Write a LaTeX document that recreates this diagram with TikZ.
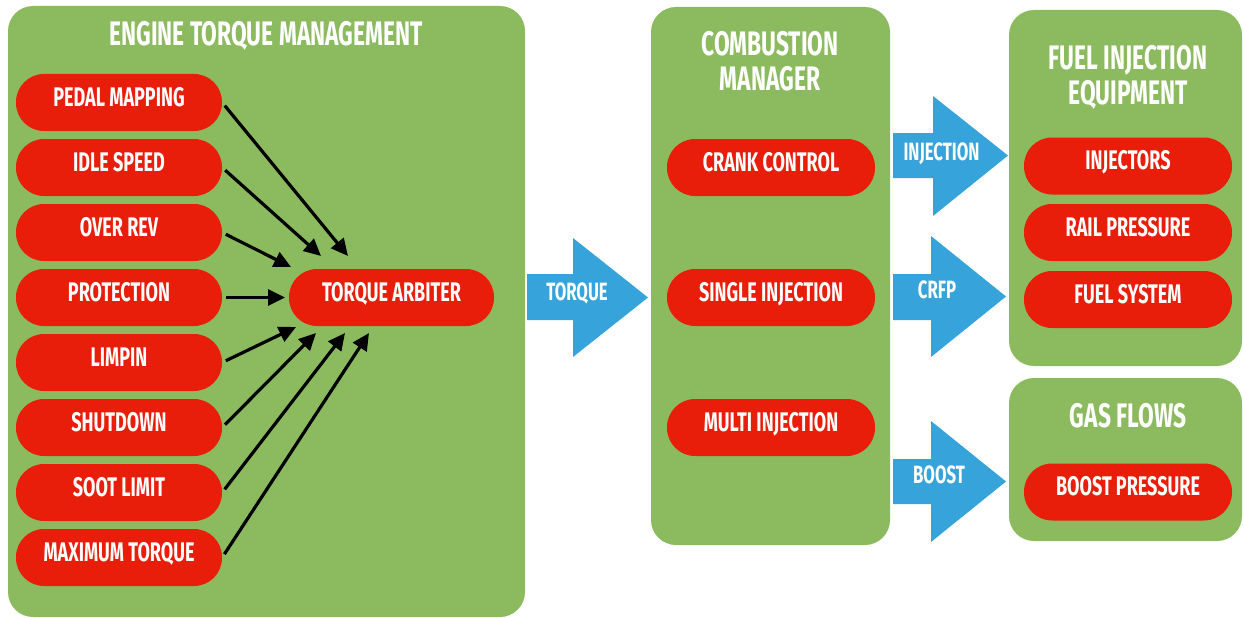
\documentclass[tikz,border=0pt]{standalone}
\usepackage{fontspec}
\setmainfont{Fira Sans}[FakeStretch=0.67]
\usepackage{tikz}
\usetikzlibrary{arrows.meta}
\definecolor{panelgreen}{RGB}{140,187,95}
\definecolor{pillred}{RGB}{232,29,10}
\definecolor{flowblue}{RGB}{54,164,218}

\begin{document}
\begin{tikzpicture}[x=1pt,y=-1pt,
    panel/.style={fill=panelgreen, rounded corners=25pt},
    title/.style={text=white, align=center, inner sep=0pt,
                  font=\bfseries\fontsize{34}{35}\selectfont},
    pill/.style={fill=pillred, text=white, rounded corners=28pt,
                 minimum width=206pt, minimum height=57pt, inner sep=0pt,
                 text height=18.5pt, text depth=11pt,
                 font=\bfseries\fontsize{26.9}{30}\selectfont},
    flow/.style={fill=flowblue},
    flowlabel/.style={text=white, inner sep=0pt, text height=17.2pt, text depth=0pt,
                      font=\bfseries\fontsize{25}{28}\selectfont},
    feed/.style={line width=3.2pt, -{Triangle[length=17pt,width=16pt]}, shorten <=4pt}]
    \useasboundingbox (0,0) rectangle (1243,618);

    % panels
    \fill[panel] (8,6) rectangle (525,617);
    \fill[panel] (651,7) rectangle (890,545);
    \fill[panel] (1009,10) rectangle (1242,366);
    \fill[panel] (1009,378) rectangle (1242,541);

    \node[title] (etm) at (266,36) {ENGINE TORQUE MANAGEMENT};
    \node[title] (cmgr) at (770,61.5) {COMBUSTION\\MANAGER};
    \node[title] (fie) at (1128,77) {FUEL INJECTION\\EQUIPMENT};
    \node[title] (gas) at (1128,416) {GAS FLOWS};

    % torque requests
    \node[pill] (pedal) at (119,102.5) {PEDAL MAPPING};
    \node[pill] (idle) at (119,167.5) {IDLE SPEED};
    \node[pill] (overrev) at (119,232.5) {OVER REV};
    \node[pill] (prot) at (119,297.5) {PROTECTION};
    \node[pill] (limpin) at (119,362.5) {LIMPIN};
    \node[pill] (shut) at (119,427.5) {SHUTDOWN};
    \node[pill] (soot) at (119,492.5) {SOOT LIMIT};
    \node[pill] (maxtq) at (119,557.5) {MAXIMUM TORQUE};
    \node[pill, minimum width=205pt] (arb) at (391.5,297.5) {TORQUE ARBITER};

    \coordinate (in1) at (348,256);
    \coordinate (in2) at (321,256);
    \coordinate (in3) at (291,267);
    \coordinate (in4) at (285,297.5);
    \coordinate (in5) at (296,327);
    \coordinate (in6) at (316,333);
    \coordinate (in7) at (345,333);
    \coordinate (in8) at (369,333);
    \draw[feed] (pedal.east) -- (in1);
    \draw[feed] (idle.east) -- (in2);
    \draw[feed] (overrev.east) -- (in3);
    \draw[feed] (prot.east) -- (in4);
    \draw[feed] (limpin.east) -- (in5);
    \draw[feed] (shut.east) -- (in6);
    \draw[feed] (soot.east) -- (in7);
    \draw[feed] (maxtq.east) -- (in8);

    % combustion manager
    \node[pill, minimum width=208pt] (crank) at (771,167.5) {CRANK CONTROL};
    \node[pill, minimum width=208pt] (single) at (771,297.5) {SINGLE INJECTION};
    \node[pill, minimum width=208pt] (multi) at (771,427.5) {MULTI INJECTION};

    % fuel injection equipment and gas flows
    \node[pill, minimum width=208pt] (inj) at (1128,166) {INJECTORS};
    \node[pill, minimum width=208pt] (rail) at (1128,232.5) {RAIL PRESSURE};
    \node[pill, minimum width=208pt] (fuel) at (1128,299.5) {FUEL SYSTEM};
    \node[pill, minimum width=208pt] (boostp) at (1128,492) {BOOST PRESSURE};

    % block arrows
    \fill[flow] (527,274) -- (573,274) -- (573,238) -- (648,297.5) -- (573,357) -- (573,320) -- (527,320) -- cycle;
    \node[flowlabel] (torque) at (577,291.5) {TORQUE};
    \fill[flow] (893,133) -- (933,133) -- (933,96) -- (1008,155.5) -- (933,216) -- (933,178) -- (893,178) -- cycle;
    \node[flowlabel] (injection) at (941.5,152) {INJECTION};
    \fill[flow] (893,274) -- (931,274) -- (931,236) -- (1006,296.5) -- (931,357) -- (931,320) -- (893,320) -- cycle;
    \node[flowlabel] (crfp) at (937,290) {CRFP};
    \fill[flow] (893,459) -- (931,459) -- (931,421) -- (1006,481.5) -- (931,542) -- (931,504) -- (893,504) -- cycle;
    \node[flowlabel] (boost) at (939,475) {BOOST};
\end{tikzpicture}
\end{document}
